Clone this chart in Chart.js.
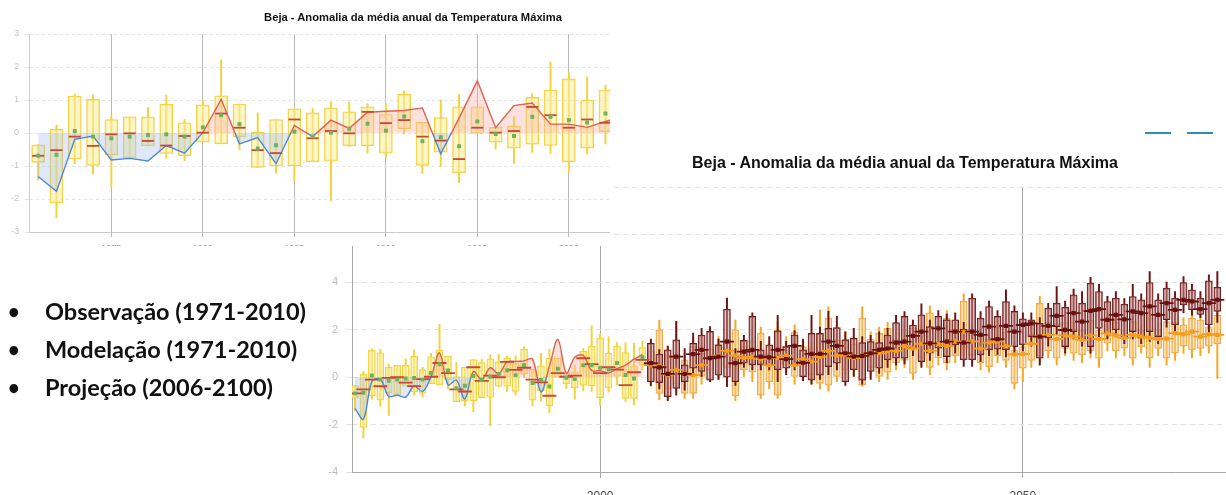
<!DOCTYPE html>
<html lang="pt">
<head>
<meta charset="utf-8">
<title>Beja - Anomalia da média anual da Temperatura Máxima</title>
<script src="https://cdn.jsdelivr.net/npm/chart.js@4.4.1/dist/chart.umd.min.js"></script>
<style>
  html, body { margin: 0; padding: 0; background: #fff; }
  body { width: 1226px; height: 495px; overflow: hidden; position: relative; font-family: "Liberation Sans", Arial, sans-serif; }
  #projWrap { position: absolute; left: 300px; top: 140px; }
  #obsWrap { position: absolute; left: 0; top: 0; width: 610px; height: 246px; overflow: hidden; background: #fff; z-index: 2; }
  #obsWrap canvas { position: absolute; left: 0; top: 0; }
  .titulo { position: absolute; font-weight: bold; color: #111; white-space: nowrap; transform: translateX(-50%); }
  #t1 { left: 413px; top: 11px; font-size: 11.2px; line-height: 13px; }
  #t2 { left: 905px; top: 154px; font-size: 16px; line-height: 18px; z-index: 1; }
  .traco { position: absolute; top: 132px; height: 0; border-top: 2px solid #2f8db5; width: 26px; }
  #lista { position: absolute; left: 0; top: 292px; z-index: 3; font-family: Lato, "Open Sans", sans-serif; font-weight: bold; font-size: 23.5px; line-height: 38px; color: #111; }
  #lista div { position: relative; padding-left: 45px; white-space: nowrap; }
  #lista div::before { content: "\2022"; position: absolute; left: 8px; font-size: 20px; }
</style>
</head>
<body>
<div id="projWrap"><canvas id="graficoProj" width="1170" height="380"></canvas></div>
<div class="titulo" id="t2">Beja - Anomalia da média anual da Temperatura Máxima</div>
<div class="traco" style="left:1145px"></div>
<div class="traco" style="left:1187px"></div>
<div id="obsWrap">
  <canvas id="graficoObs" width="771" height="262"></canvas>
  <div class="titulo" id="t1">Beja - Anomalia da média anual da Temperatura Máxima</div>
</div>
<div id="lista">
  <div>Observação (1971-2010)</div>
  <div>Modelação (1971-2010)</div>
  <div>Projeção (2006-2100)</div>
</div>
<script>
// observação 1971-2005
const anosObs = [1971, 1972, 1973, 1974, 1975, 1976, 1977, 1978, 1979, 1980, 1981, 1982, 1983, 1984, 1985, 1986, 1987, 1988, 1989, 1990, 1991, 1992, 1993, 1994, 1995, 1996, 1997, 1998, 1999, 2000, 2001, 2002, 2003, 2004, 2005];
const obsMin = [-1.42, -2.57, -0.93, -1.24, -1.62, -0.75, -0.39, -0.77, -0.84, -0.28, -0.33, -0.51, -1.04, -1.22, -1.47, -0.87, -2.05, -0.41, -0.61, -0.76, -0.03, -1.22, -1.02, -1.5, -0.01, -0.49, -0.93, -0.59, -0.62, -1.2, -0.64, -0.33, -1.04, -1.18, 0.3];
const obsQ1 = [-0.89, -2.12, -0.79, -0.98, -0.66, -0.75, -0.39, -0.62, -0.69, -0.28, -0.33, -0.12, -1.04, -1.0, -1.0, -0.87, -0.85, -0.39, -0.39, -0.61, 0.13, -0.98, -0.58, -1.21, -0.01, -0.28, -0.46, -0.34, -0.38, -0.87, -0.46, 0.04, -0.9, -0.9, 0.5];
const obsMediana = [-0.69, -0.52, -0.11, -0.39, -0.04, -0.01, -0.24, -0.38, -0.09, 0.01, 0.59, 0.16, -0.52, -0.61, 0.41, -0.16, 0.06, -0.01, 0.64, 0.30, 0.39, -0.11, -0.23, -0.79, 0.16, 0.01, 0.06, 0.79, 0.54, 0.16, 0.41, 0.31, -0.34, 0.2, 0.72];
const obsQ3 = [-0.36, 0.11, 1.12, 1.02, 0.41, 0.49, 0.49, 0.87, 0.31, 0.85, 1.13, 0.88, 0.02, 0.41, 0.73, 0.61, 0.76, 0.64, 0.79, 0.56, 1.17, 0.32, 0.47, 0.79, 0.79, 0.17, 0.21, 1.08, 1.3, 1.64, 1.0, 1.3, 1.03, 0.46, 1.24];
const obsMax = [-0.35, 0.24, 1.18, 1.16, 0.54, 0.49, 0.77, 1.15, 0.41, 1.0, 2.22, 0.88, 0.61, 0.41, 0.73, 0.74, 0.94, 0.94, 0.89, 0.89, 1.28, 0.32, 1.0, 1.17, 0.79, 0.17, 0.49, 1.2, 2.15, 1.82, 1.7, 1.45, 1.45, 1.42, 1.5];
const obsMedia = [-0.69, -0.66, 0.06, -0.11, -0.16, -0.11, -0.06, -0.04, -0.11, 0.17, 0.54, 0.27, -0.47, -0.37, 0.04, -0.11, 0.01, 0.13, 0.28, 0.07, 0.5, -0.25, -0.13, -0.40, 0.35, -0.03, -0.09, 0.49, 0.49, 0.39, 0.32, 0.59, 0.08, -0.06, 0.83];
const obsLinha = [-1.32, -1.77, -0.19, -0.09, -0.82, -0.77, -0.85, -0.38, -0.61, 0.01, 1.02, -0.33, -0.14, -0.93, 0.23, -0.11, 0.39, 0.14, 0.63, 0.66, 0.68, 0.76, -0.63, 0.45, 1.58, 0.16, 0.83, 0.91, 0.27, 0.27, 0.17, 0.35, 0.5, 0.75, 0.95];

// projeção 2006-2073 (parte visível)
const anosProj = [2006, 2007, 2008, 2009, 2010, 2011, 2012, 2013, 2014, 2015, 2016, 2017, 2018, 2019, 2020, 2021, 2022, 2023, 2024, 2025, 2026, 2027, 2028, 2029, 2030, 2031, 2032, 2033, 2034, 2035, 2036, 2037, 2038, 2039, 2040, 2041, 2042, 2043, 2044, 2045, 2046, 2047, 2048, 2049, 2050, 2051, 2052, 2053, 2054, 2055, 2056, 2057, 2058, 2059, 2060, 2061, 2062, 2063, 2064, 2065, 2066, 2067, 2068, 2069, 2070, 2071, 2072, 2073];

const rcp85Min = [-0.35, -0.5, -1.0, -0.76, -0.55, 0.1, 0.0, -0.2, -0.1, -0.41, -0.35, 0.4, 0.3, 0.3, 0.3, -0.2, 0.1, 0.3, -0.15, -0.3, -0.1, 0.1, 0.3, -0.35, 0.0, -0.3, -0.1, 0.15, 0.4, 0.5, 0.55, 0.9, 0.4, 0.7, 0.9, 0.6, 1.0, 0.45, 0.45, 0.65, 0.9, 0.95, 0.85, 1.0, 1.1, 1.3, 0.5, 1.3, 1.8, 1.0, 1.6, 1.3, 1.0, 1.7, 1.6, 1.7, 1.4, 1.6, 1.4, 1.5, 1.4, 2.1, 1.9, 2.7, 2.6, 2.5, 1.9, 2.3];
const rcp85Q1 = [-0.2, -0.24, -0.83, -0.48, -0.2, 0.37, 0.23, -0.13, 0.08, -0.01, -0.2, 0.58, 0.51, 0.51, 0.51, 0.30, 0.37, 0.51, 0.01, -0.13, 0.08, 0.44, 0.58, -0.2, 0.30, -0.13, 0.23, 0.37, 0.72, 0.79, 0.79, 1.21, 0.65, 1.0, 1.21, 0.86, 1.35, 0.72, 0.72, 0.93, 1.14, 1.17, 1.14, 1.28, 1.35, 1.70, 0.79, 1.63, 2.12, 1.28, 1.91, 1.56, 1.28, 2.05, 1.84, 1.98, 1.63, 1.91, 1.63, 1.91, 1.70, 2.41, 2.19, 3.04, 2.83, 2.63, 2.19, 2.76];
const rcp85Mediana = [0.58, 0.41, 0.13, 0.86, 0.13, 0.96, 1.14, 0.79, 0.86, 1.49, 0.58, 1.07, 1.14, 0.86, 0.83, 1.14, 0.75, 1.31, 0.6, 0.97, 0.97, 1.49, 1.31, 1.0, 0.86, 0.89, 1.0, 1.14, 1.2, 1.45, 1.49, 1.73, 1.91, 1.42, 2.05, 1.49, 1.91, 1.45, 1.91, 1.77, 2.12, 1.59, 2.15, 1.91, 2.19, 2.26, 1.70, 2.15, 2.57, 1.98, 2.69, 2.33, 2.78, 2.86, 2.41, 2.62, 2.43, 2.76, 2.69, 2.97, 2.62, 3.11, 2.83, 3.25, 3.18, 2.86, 3.11, 3.25];
const rcp85Q3 = [1.42, 0.97, 1.14, 1.56, 0.51, 1.42, 1.77, 1.92, 1.35, 2.86, 0.86, 1.54, 2.55, 1.14, 1.35, 1.94, 1.28, 1.77, 1.14, 1.84, 1.84, 2.05, 2.08, 1.56, 1.63, 1.45, 1.49, 1.45, 1.77, 2.29, 2.55, 2.19, 2.62, 2.12, 2.55, 2.41, 2.41, 2.01, 3.32, 2.48, 2.97, 2.55, 3.18, 2.76, 2.45, 2.41, 2.26, 2.90, 3.11, 2.94, 3.46, 3.11, 3.95, 3.60, 3.18, 3.32, 3.07, 3.39, 3.25, 3.98, 3.25, 3.74, 3.32, 3.98, 3.67, 3.32, 4.05, 3.78];
const rcp85Max = [1.6, 1.15, 1.3, 2.34, 1.2, 1.85, 2.05, 2.12, 1.6, 3.32, 1.2, 1.75, 2.7, 1.5, 1.7, 2.6, 1.5, 1.95, 1.6, 2.6, 2.1, 2.76, 2.55, 1.9, 2.05, 1.7, 1.75, 1.9, 2.05, 2.6, 2.75, 2.4, 3.08, 2.4, 2.8, 2.65, 2.7, 2.3, 3.5, 2.75, 3.2, 2.8, 3.67, 3.0, 2.7, 2.7, 2.5, 3.1, 3.81, 3.2, 3.7, 3.6, 4.2, 3.9, 3.4, 3.6, 3.3, 3.9, 3.5, 4.44, 3.5, 4.0, 3.6, 4.23, 3.9, 3.6, 4.3, 4.44];

const rcp45Min = [-0.4, -0.97, -0.8, -0.6, -0.9, -0.9, -0.3, 0.0, -0.1, 0.1, -1.0, 0.0, -0.2, -0.9, -0.5, -0.9, 0.2, -0.3, 0.3, -0.3, -0.5, -0.6, -0.2, 0.0, 0.0, -0.4, 0.1, -0.2, -0.1, 0.3, 0.4, -0.1, 0.5, 0.1, 0.5, 0.3, 0.6, 0.9, 0.6, 0.3, 0.2, 0.6, 0.4, -0.5, -0.2, 0.4, 0.6, 0.8, 0.5, 0.9, 0.7, 0.6, 0.8, 0.4, 1.1, 0.8, 0.9, 0.5, 1.0, 0.4, 0.9, 0.5, 0.7, 1.0, 0.8, 0.9, 1.0, -0.06];
const rcp45Q1 = [-0.1, -0.69, -0.5, -0.3, -0.69, -0.69, 0.0, 0.3, 0.2, 0.4, -0.8, 0.3, 0.2, -0.76, -0.2, -0.76, 0.5, 0.0, 0.72, 0.1, -0.27, -0.34, 0.0, 0.3, 0.3, -0.34, 0.4, 0.0, 0.2, 0.6, 0.7, 0.15, 0.8, 0.4, 0.8, 0.6, 0.9, 1.2, 0.9, 0.6, 0.44, 0.9, 0.7, -0.27, 0.37, 0.7, 0.9, 1.1, 0.79, 1.2, 1.0, 0.93, 1.1, 0.79, 1.42, 1.1, 1.21, 0.79, 1.28, 0.8, 1.2, 0.79, 1.0, 1.3, 1.14, 1.2, 1.3, 1.4];
const rcp45Mediana = [0.5, 0.45, 0.1, 0.3, 0.15, 0.08, 0.5, 0.8, 0.9, 1.1, 0.9, 0.8, 0.85, 0.75, 0.5, 0.8, 0.9, 0.5, 0.75, 0.65, 0.85, 1.1, 0.9, 0.95, 0.8, 0.9, 1.0, 1.0, 1.1, 1.1, 1.3, 1.2, 1.4, 1.1, 1.4, 1.3, 1.5, 1.9, 1.5, 1.2, 1.45, 1.5, 1.3, 0.95, 0.97, 1.4, 1.7, 1.77, 1.6, 1.75, 1.7, 1.56, 1.75, 1.6, 1.84, 1.75, 1.65, 1.77, 1.7, 1.65, 1.6, 1.62, 1.85, 1.8, 1.91, 1.7, 1.8, 1.77];
const rcp45Q3 = [1.1, 1.99, 0.9, 0.8, 0.72, 1.28, 1.0, 1.2, 1.4, 1.6, 1.99, 1.3, 1.5, 1.84, 1.0, 1.98, 1.3, 1.9, 1.28, 1.2, 1.84, 2.48, 1.55, 1.6, 1.4, 2.48, 1.6, 1.84, 2.05, 1.6, 2.0, 2.05, 1.9, 2.7, 1.9, 2.48, 2.0, 3.2, 2.0, 1.8, 1.6, 2.1, 1.9, 1.14, 1.28, 1.8, 3.1, 2.3, 2.26, 2.3, 2.0, 1.98, 2.4, 1.98, 2.33, 2.3, 1.98, 2.33, 1.98, 2.5, 2.0, 2.33, 2.3, 2.2, 2.48, 2.4, 2.1, 2.6];
const rcp45Max = [1.4, 2.4, 1.3, 2.3, 1.0, 1.6, 1.3, 1.5, 1.7, 2.0, 2.4, 1.6, 1.9, 2.1, 1.4, 2.3, 1.7, 2.2, 1.5, 1.5, 2.83, 2.95, 1.8, 1.9, 1.7, 2.95, 1.9, 2.1, 2.3, 1.9, 2.3, 2.4, 2.2, 3.0, 2.2, 2.8, 2.3, 3.5, 2.3, 2.1, 1.7, 2.4, 2.2, 1.5, 1.6, 2.3, 3.4, 2.6, 2.6, 2.6, 2.3, 2.3, 2.8, 2.3, 2.6, 2.6, 2.3, 2.6, 2.2, 2.8, 2.3, 2.6, 2.6, 2.5, 2.8, 2.7, 2.4, 2.9];

// marcas do eixo x
const ticksObs = [1975, 1980, 1985, 1990, 1995, 2000, 2005, 2010];
const ticksProj = [2000, 2050, 2100];

const corAcima = '#e0604e';
const corAbaixo = '#4f86d9';

function pontos(anos, valores) {
  return anos.map((a, i) => ({ x: a, y: valores[i] }));
}

function intervalos(anos, baixo, alto) {
  return anos.map((a, i) => ({ x: a, y: [baixo[i], alto[i]] }));
}

function caixas(anos, q1, q3, cor, fundo, largura, ordem) {
  return {
    type: 'bar', data: intervalos(anos, q1, q3), grouped: false,
    backgroundColor: fundo, borderColor: cor, borderWidth: 1, borderSkipped: false,
    barThickness: largura, order: ordem
  };
}

function bigodes(anos, min, max, cor, ordem) {
  return {
    type: 'bar', data: intervalos(anos, min, max), grouped: false,
    backgroundColor: cor, borderWidth: 0, barThickness: 1.3, order: ordem
  };
}

function marcas(anos, valores, cor, estilo, raio, ordem) {
  return {
    type: 'line', data: pontos(anos, valores), showLine: false,
    pointStyle: estilo, pointRadius: raio, pointHoverRadius: raio,
    pointBorderColor: cor, pointBackgroundColor: cor, pointBorderWidth: estilo === 'line' ? 1.8 : 0,
    order: ordem
  };
}

function corLinha(context) {
  const chart = context.chart;
  const area = chart.chartArea;
  if (!area) return corAcima;
  const y0 = chart.scales.y.getPixelForValue(0);
  const t = Math.min(Math.max((y0 - area.top) / (area.bottom - area.top), 0), 1);
  const g = chart.ctx.createLinearGradient(0, area.top, 0, area.bottom);
  g.addColorStop(0, corAcima);
  g.addColorStop(t, corAcima);
  g.addColorStop(t, corAbaixo);
  g.addColorStop(1, corAbaixo);
  return g;
}

function linhaObs(tensao, ordem) {
  return {
    type: 'line', data: pontos(anosObs, obsLinha), borderColor: corLinha, borderWidth: 1.4,
    pointRadius: 0, tension: tensao,
    fill: { target: 'origin', above: 'rgba(250, 170, 160, 0.35)', below: 'rgba(160, 190, 240, 0.35)' },
    order: ordem
  };
}

const inteiro = v => String(v);
const fixarTicks = lista => s => { s.ticks = lista.map(v => ({ value: v })); };

// gráfico de cima: só observação
new Chart(document.getElementById('graficoObs').getContext('2d'), {
  type: 'bar',
  data: {
    datasets: [
      bigodes(anosObs, obsMin, obsMax, '#f2d33a', 5),
      caixas(anosObs, obsQ1, obsQ3, '#f1d242', 'rgba(252, 238, 160, 0.55)', 13, 4),
      linhaObs(0, 3),
      marcas(anosObs, obsMediana, '#c8463a', 'line', 6, 2),
      marcas(anosObs, obsMedia, '#6fb25c', 'rect', 2.8, 1)
    ]
  },
  options: {
    responsive: false, animation: false, devicePixelRatio: 1,
    layout: { padding: { top: 34, left: 0, right: 10, bottom: 10 } },
    plugins: { legend: { display: false }, tooltip: { enabled: false } },
    scales: {
      x: {
        type: 'linear', min: 1970.5, max: 2010.5, offset: false,
        afterBuildTicks: fixarTicks(ticksObs),
        afterFit: s => { s.height = 20; },
        grid: { offset: false, color: '#b9b9b9', tickLength: 5 },
        border: { display: true, color: '#c9c9c9' },
        ticks: { callback: inteiro, color: '#999', font: { size: 9 }, padding: 6 }
      },
      y: {
        min: -3, max: 3,
        afterFit: s => { s.width = 29; },
        grid: { color: '#e3e3e3', tickLength: 4 },
        border: { display: true, color: '#cfcfcf', dash: [3, 3] },
        ticks: { stepSize: 1, callback: inteiro, color: '#c4c4c4', font: { size: 9 }, padding: 6 }
      }
    }
  }
});

// gráfico de baixo: observação + projeção
new Chart(document.getElementById('graficoProj').getContext('2d'), {
  type: 'bar',
  data: {
    datasets: [
      bigodes(anosProj, rcp45Min, rcp45Max, '#f5a623', 12),
      caixas(anosProj, rcp45Q1, rcp45Q3, '#f2a94a', 'rgba(252, 215, 160, 0.45)', 7, 11),
      bigodes(anosProj, rcp85Min, rcp85Max, '#6e1414', 10),
      caixas(anosProj, rcp85Q1, rcp85Q3, '#6e1c1c', 'rgba(205, 150, 150, 0.5)', 7, 9),
      bigodes(anosObs, obsMin, obsMax, '#f2d33a', 8),
      caixas(anosObs, obsQ1, obsQ3, '#f1d242', 'rgba(252, 238, 160, 0.55)', 7, 7),
      linhaObs(0.35, 6),
      marcas(anosProj, rcp45Mediana, '#f39c1e', 'line', 7, 5),
      marcas(anosProj, rcp45Mediana, '#f39c1e', 'rect', 3, 4),
      marcas(anosObs, obsMediana, '#c8463a', 'line', 7, 3),
      marcas(anosObs, obsMedia, '#6fb25c', 'rect', 2.8, 2),
      marcas(anosProj, rcp85Mediana, '#6a0f0f', 'line', 7, 1),
      marcas(anosProj, rcp85Mediana, '#6a0f0f', 'rect', 3, 0)
    ]
  },
  options: {
    responsive: false, animation: false, devicePixelRatio: 1,
    layout: { padding: { top: 47, left: 0, right: 14, bottom: 8 } },
    plugins: { legend: { display: false }, tooltip: { enabled: false } },
    scales: {
      x: {
        type: 'linear', min: 1970.65, max: 2100.5, offset: false,
        afterBuildTicks: fixarTicks(ticksProj),
        afterFit: s => { s.height = 40; },
        grid: { offset: false, color: '#a8a8a8', tickLength: 6 },
        border: { display: true, color: '#a8a8a8' },
        ticks: { callback: inteiro, color: '#444', font: { size: 12 }, padding: 11 }
      },
      y: {
        min: -4, max: 8,
        afterFit: s => { s.width = 52; },
        grid: { color: '#e2e2e2', tickLength: 6 },
        border: { display: true, color: '#a8a8a8', dash: [5, 4] },
        ticks: { stepSize: 2, callback: inteiro, color: '#bdbdbd', font: { size: 11 }, padding: 8 }
      }
    }
  }
});
</script>
</body>
</html>
